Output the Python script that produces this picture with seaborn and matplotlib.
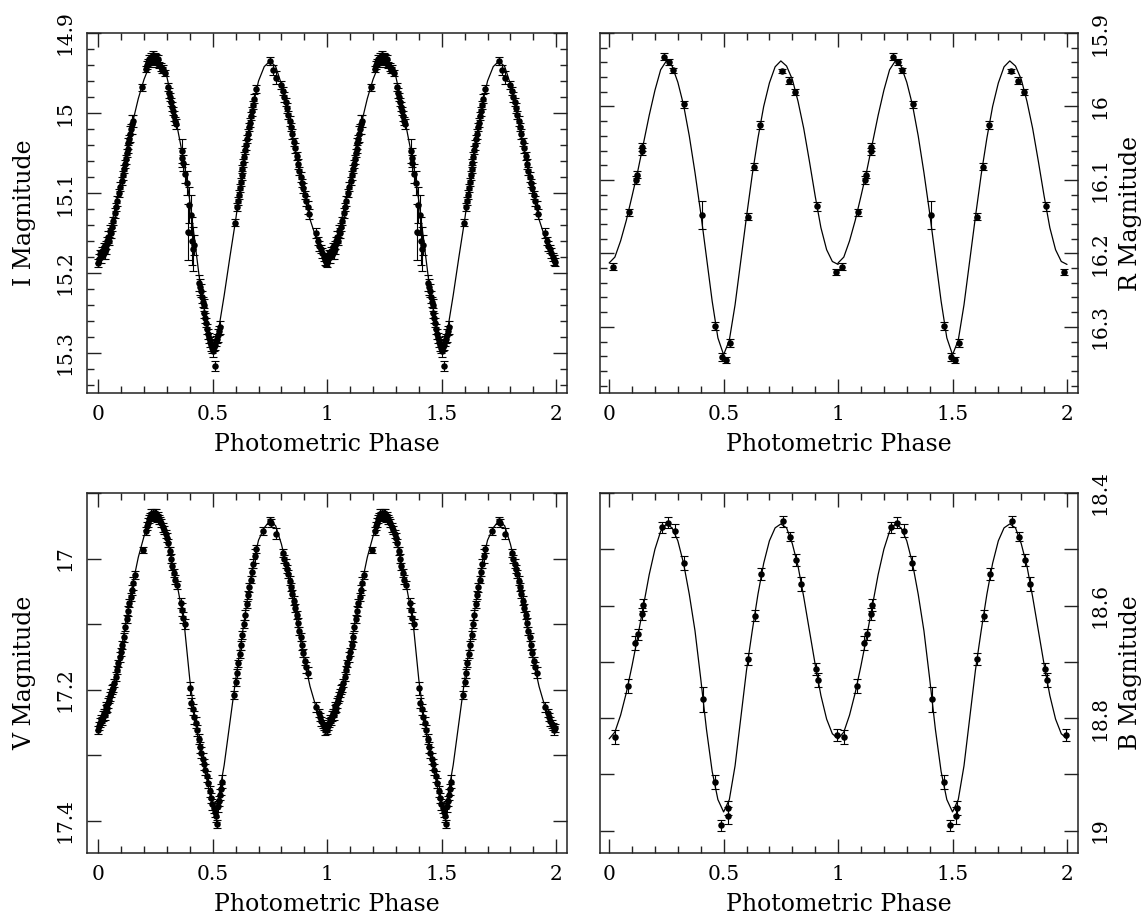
import numpy as np
import pandas as pd
import matplotlib
matplotlib.use("Agg")
import matplotlib.pyplot as plt
import seaborn as sns
from matplotlib.ticker import MultipleLocator, FuncFormatter

# ---------------- data (one cycle, phase 0-1; plotted twice) ----------------
curve_phase = [0.000, 0.025, 0.050, 0.075, 0.100, 0.125, 0.150, 0.175, 0.200, 0.225,
               0.250, 0.275, 0.300, 0.325, 0.350, 0.375, 0.400, 0.425, 0.450, 0.475,
               0.500, 0.525, 0.550, 0.575, 0.600, 0.625, 0.650, 0.675, 0.700, 0.725,
               0.750, 0.775, 0.800, 0.825, 0.850, 0.875, 0.900, 0.925, 0.950, 0.975, 1.000]

I_curve = [15.185, 15.176, 15.150, 15.117, 15.082, 15.044, 15.012, 14.982, 14.958, 14.940,
           14.932, 14.937, 14.955, 14.988, 15.025, 15.062, 15.110, 15.168, 15.225, 15.265,
           15.293, 15.272, 15.228, 15.180, 15.134, 15.082, 15.033, 14.992, 14.960, 14.942,
           14.935, 14.942, 14.964, 14.998, 15.032, 15.066, 15.100, 15.133, 15.155, 15.172, 15.185]

R_curve = [16.213, 16.205, 16.183, 16.155, 16.122, 16.088, 16.050, 16.012, 15.978, 15.950,
           15.938, 15.945, 15.967, 15.998, 16.040, 16.090, 16.145, 16.205, 16.265, 16.315,
           16.338, 16.318, 16.270, 16.210, 16.150, 16.093, 16.043, 16.000, 15.968, 15.946,
           15.938, 15.945, 15.963, 15.993, 16.030, 16.075, 16.122, 16.165, 16.195, 16.211, 16.215]

V_curve = [17.258, 17.245, 17.215, 17.180, 17.140, 17.088, 17.040, 16.998, 16.966, 16.945,
           16.937, 16.945, 16.967, 17.010, 17.050, 17.098, 17.185, 17.250, 17.298, 17.338,
           17.380, 17.365, 17.315, 17.250, 17.185, 17.125, 17.065, 17.010, 16.972, 16.953,
           16.942, 16.950, 16.978, 17.015, 17.060, 17.110, 17.155, 17.195, 17.225, 17.248, 17.258]

B_curve = [18.837, 18.825, 18.795, 18.755, 18.707, 18.655, 18.600, 18.545, 18.500, 18.468,
           18.455, 18.462, 18.485, 18.525, 18.580, 18.645, 18.730, 18.820, 18.895, 18.945,
           18.967, 18.945, 18.885, 18.800, 18.715, 18.645, 18.580, 18.525, 18.485, 18.462,
           18.455, 18.462, 18.490, 18.530, 18.585, 18.645, 18.705, 18.760, 18.802, 18.828, 18.837]

I_phase = [0.000, 0.004, 0.008, 0.012, 0.016, 0.020, 0.024, 0.028, 0.032, 0.036, 0.040, 0.044, 0.048, 0.052, 0.056, 0.060,
           0.066, 0.072, 0.078, 0.084, 0.090, 0.096,
           0.104, 0.108, 0.112, 0.116, 0.120, 0.124, 0.128, 0.132, 0.136, 0.140, 0.144, 0.148, 0.152,
           0.190,
           0.208, 0.214, 0.218, 0.222, 0.226, 0.230, 0.234, 0.238, 0.242, 0.246, 0.250, 0.254, 0.258, 0.262, 0.266, 0.272, 0.278, 0.284, 0.290,
           0.306, 0.310, 0.314, 0.318, 0.322, 0.326, 0.330, 0.334, 0.338,
           0.364, 0.368, 0.372, 0.380, 0.386,
           0.393, 0.398, 0.404, 0.410, 0.414, 0.420,
           0.440, 0.444, 0.448, 0.452, 0.456, 0.460, 0.464, 0.468, 0.472, 0.476, 0.480, 0.484, 0.488, 0.492, 0.496, 0.500, 0.504, 0.508, 0.512, 0.516, 0.520, 0.524, 0.528, 0.532,
           0.597,
           0.606, 0.610, 0.614, 0.618, 0.622, 0.626, 0.630, 0.634, 0.638, 0.642, 0.646, 0.650, 0.654, 0.658, 0.662, 0.666, 0.670, 0.676, 0.682, 0.690,
           0.752, 0.764, 0.776,
           0.800, 0.806, 0.812, 0.818, 0.824, 0.830, 0.836, 0.842, 0.848, 0.854, 0.860, 0.866, 0.872, 0.878, 0.884, 0.890, 0.896, 0.902, 0.908, 0.914, 0.920,
           0.952, 0.960, 0.966, 0.972, 0.978, 0.984, 0.990, 0.996]
I_mag = [15.188, 15.182, 15.176, 15.180, 15.172, 15.177, 15.168, 15.174, 15.165, 15.170, 15.160, 15.155, 15.160, 15.148, 15.150, 15.142,
         15.135, 15.125, 15.118, 15.110, 15.100, 15.092,
         15.085, 15.078, 15.070, 15.064, 15.058, 15.050, 15.045, 15.038, 15.033, 15.026, 15.020, 15.014, 15.010,
         14.968,
         14.945, 14.940, 14.936, 14.932, 14.938, 14.930, 14.934, 14.928, 14.935, 14.930, 14.936, 14.931, 14.938, 14.933, 14.940, 14.942, 14.946, 14.945, 14.950,
         14.968, 14.975, 14.980, 14.986, 14.992, 14.998, 15.004, 15.010, 15.014,
         15.048, 15.056, 15.062, 15.076, 15.088,
         15.149, 15.115, 15.128, 15.160, 15.170, 15.165,
         15.212, 15.218, 15.222, 15.230, 15.236, 15.240, 15.250, 15.256, 15.262, 15.270, 15.276, 15.281, 15.286, 15.290, 15.294, 15.297, 15.292, 15.316, 15.290, 15.285, 15.282, 15.278, 15.272, 15.268,
         15.137,
         15.118, 15.110, 15.102, 15.094, 15.086, 15.078, 15.070, 15.063, 15.055, 15.046, 15.040, 15.032, 15.026, 15.018, 15.012, 15.004, 14.998, 14.990, 14.982, 14.970,
         14.935, 14.946, 14.956,
         14.965, 14.972, 14.980, 14.986, 14.994, 15.002, 15.010, 15.018, 15.026, 15.036, 15.044, 15.054, 15.064, 15.072, 15.080, 15.088, 15.094, 15.102, 15.110, 15.118, 15.126,
         15.150, 15.160, 15.166, 15.170, 15.175, 15.180, 15.184, 15.186]
I_err = [0.005, 0.006, 0.005, 0.007, 0.005, 0.006, 0.005, 0.008, 0.005, 0.006, 0.005, 0.007, 0.005, 0.008, 0.006, 0.005,
         0.005, 0.006, 0.005, 0.006, 0.005, 0.006,
         0.005, 0.006, 0.005, 0.005, 0.006, 0.005, 0.005, 0.007, 0.005, 0.010, 0.006, 0.012, 0.008,
         0.004,
         0.004, 0.005, 0.004, 0.005, 0.004, 0.005, 0.004, 0.006, 0.004, 0.005, 0.004, 0.005, 0.004, 0.005, 0.004, 0.005, 0.004, 0.005, 0.004,
         0.005, 0.006, 0.005, 0.005, 0.006, 0.005, 0.006, 0.005, 0.006,
         0.015, 0.012, 0.010, 0.012, 0.015,
         0.035, 0.022, 0.025, 0.030, 0.028, 0.012,
         0.010, 0.010, 0.008, 0.008, 0.006, 0.008, 0.006, 0.006, 0.006, 0.006, 0.006, 0.006, 0.006, 0.008, 0.006, 0.008, 0.006, 0.006, 0.006, 0.006, 0.006, 0.008, 0.006, 0.008,
         0.004,
         0.005, 0.005, 0.006, 0.005, 0.005, 0.006, 0.005, 0.005, 0.006, 0.005, 0.006, 0.005, 0.006, 0.005, 0.006, 0.005, 0.006, 0.005, 0.006, 0.005,
         0.005, 0.006, 0.008,
         0.005, 0.005, 0.006, 0.005, 0.006, 0.005, 0.006, 0.005, 0.006, 0.005, 0.006, 0.005, 0.006, 0.005, 0.006, 0.005, 0.006, 0.005, 0.006, 0.008, 0.006,
         0.006, 0.005, 0.006, 0.005, 0.006, 0.005, 0.006, 0.005]

V_phase = [0.000, 0.004, 0.008, 0.012, 0.016, 0.020, 0.024, 0.028, 0.032, 0.036, 0.040, 0.044, 0.048, 0.052, 0.056, 0.060,
           0.064, 0.070, 0.076, 0.082, 0.088, 0.094, 0.100, 0.106, 0.112, 0.118, 0.124, 0.130, 0.136, 0.142, 0.148, 0.154, 0.160,
           0.197,
           0.210, 0.214, 0.218, 0.222, 0.226, 0.230, 0.234, 0.238, 0.242, 0.246, 0.250, 0.254, 0.258, 0.262, 0.266, 0.270, 0.276, 0.282, 0.288, 0.294, 0.300,
           0.306, 0.312, 0.318, 0.324, 0.330, 0.336, 0.342, 0.360, 0.366, 0.372, 0.378,
           0.402, 0.406, 0.414, 0.420, 0.426, 0.432, 0.438, 0.444, 0.450, 0.456, 0.462, 0.468, 0.474, 0.480, 0.486, 0.492, 0.498, 0.504,
           0.508, 0.514, 0.518, 0.524, 0.528, 0.532, 0.536, 0.540,
           0.592, 0.600, 0.606, 0.612, 0.618, 0.624, 0.630, 0.636, 0.642, 0.648, 0.654, 0.660, 0.666, 0.672, 0.678, 0.684, 0.690,
           0.720, 0.750, 0.756, 0.778,
           0.806, 0.812, 0.818, 0.824, 0.830, 0.836, 0.842, 0.848, 0.854, 0.860, 0.866, 0.872, 0.878, 0.884, 0.890, 0.896, 0.902, 0.908, 0.914,
           0.952, 0.962, 0.968, 0.974, 0.980, 0.986, 0.992, 0.996]
V_mag = [17.262, 17.255, 17.250, 17.245, 17.248, 17.240, 17.236, 17.238, 17.230, 17.225, 17.228, 17.220, 17.215, 17.210, 17.205, 17.200,
         17.198, 17.190, 17.180, 17.170, 17.160, 17.150, 17.143, 17.132, 17.120, 17.104, 17.092, 17.080, 17.068, 17.058, 17.048, 17.038, 17.025,
         16.987,
         16.958, 16.950, 16.945, 16.940, 16.936, 16.932, 16.935, 16.930, 16.934, 16.930, 16.936, 16.932, 16.938, 16.935, 16.940, 16.942, 16.946, 16.952, 16.956, 16.962, 16.968,
         16.976, 16.988, 17.000, 17.012, 17.022, 17.032, 17.040, 17.068, 17.078, 17.090, 17.100,
         17.198, 17.220, 17.230, 17.242, 17.250, 17.262, 17.275, 17.288, 17.296, 17.305, 17.314, 17.322, 17.332, 17.342, 17.355, 17.365, 17.375, 17.380,
         17.386, 17.392, 17.405, 17.378, 17.370, 17.360, 17.352, 17.340,
         17.208, 17.188, 17.175, 17.160, 17.146, 17.132, 17.116, 17.100, 17.086, 17.070, 17.056, 17.044, 17.032, 17.020, 17.008, 16.996, 16.985,
         16.958, 16.942, 16.946, 16.962,
         16.992, 17.000, 17.008, 17.016, 17.024, 17.034, 17.044, 17.054, 17.064, 17.076, 17.086, 17.098, 17.110, 17.120, 17.132, 17.144, 17.156, 17.166, 17.174,
         17.226, 17.236, 17.242, 17.248, 17.252, 17.256, 17.262, 17.258]
V_err = [0.006, 0.006, 0.007, 0.006, 0.006, 0.007, 0.006, 0.008, 0.006, 0.007, 0.006, 0.008, 0.006, 0.007, 0.006, 0.007,
         0.006, 0.006, 0.007, 0.006, 0.006, 0.007, 0.006, 0.006, 0.007, 0.006, 0.006, 0.007, 0.006, 0.006, 0.007, 0.010, 0.006,
         0.005,
         0.006, 0.006, 0.007, 0.006, 0.006, 0.007, 0.006, 0.006, 0.007, 0.006, 0.006, 0.007, 0.006, 0.006, 0.007, 0.006, 0.006, 0.007, 0.006, 0.006, 0.007,
         0.006, 0.006, 0.007, 0.006, 0.006, 0.007, 0.006, 0.008, 0.010, 0.008, 0.008,
         0.010, 0.008, 0.008, 0.010, 0.008, 0.008, 0.008, 0.008, 0.008, 0.008, 0.008, 0.008, 0.008, 0.008, 0.008, 0.008, 0.008, 0.008,
         0.008, 0.010, 0.006, 0.008, 0.008, 0.008, 0.008, 0.010,
         0.006, 0.006, 0.007, 0.006, 0.006, 0.007, 0.006, 0.006, 0.007, 0.006, 0.006, 0.007, 0.006, 0.006, 0.007, 0.010, 0.006,
         0.006, 0.005, 0.006, 0.008,
         0.006, 0.006, 0.007, 0.006, 0.006, 0.007, 0.006, 0.006, 0.007, 0.006, 0.006, 0.007, 0.006, 0.006, 0.007, 0.006, 0.006, 0.008, 0.008,
         0.008, 0.006, 0.006, 0.007, 0.006, 0.006, 0.007, 0.006]

R_phase = [0.017, 0.088, 0.116, 0.120, 0.142, 0.143, 0.238, 0.263, 0.280, 0.327, 0.404, 0.464,
           0.493, 0.512, 0.528, 0.605, 0.632, 0.659, 0.755, 0.786, 0.813, 0.907, 0.989]
R_mag = [16.218, 16.144, 16.100, 16.093, 16.061, 16.055, 15.932, 15.940, 15.951, 15.997, 16.148, 16.299,
         16.341, 16.345, 16.322, 16.150, 16.082, 16.025, 15.952, 15.965, 15.980, 16.136, 16.225]
R_err = [0.005, 0.005, 0.005, 0.005, 0.005, 0.005, 0.005, 0.004, 0.004, 0.005, 0.019, 0.005,
         0.005, 0.004, 0.006, 0.005, 0.005, 0.005, 0.003, 0.005, 0.004, 0.006, 0.004]

B_phase = [0.024, 0.081, 0.114, 0.125, 0.142, 0.149, 0.233, 0.257, 0.289, 0.325, 0.410, 0.462, 0.488,
           0.517, 0.521, 0.608, 0.636, 0.664, 0.760, 0.790, 0.817, 0.840, 0.905, 0.912, 0.995]
B_mag = [18.834, 18.743, 18.667, 18.651, 18.615, 18.599, 18.461, 18.453, 18.467, 18.524, 18.767, 18.914, 18.991,
         18.974, 18.960, 18.695, 18.618, 18.544, 18.450, 18.478, 18.519, 18.562, 18.713, 18.732, 18.830]
B_err = [0.012, 0.012, 0.012, 0.010, 0.010, 0.010, 0.010, 0.010, 0.012, 0.012, 0.023, 0.012, 0.010,
         0.015, 0.012, 0.010, 0.010, 0.010, 0.010, 0.008, 0.010, 0.012, 0.010, 0.012, 0.010]

# ---------------- style ----------------
sns.set_theme(style="ticks")
plt.rcParams["font.family"] = ["DejaVu Serif"]
plt.rcParams["axes.linewidth"] = 1.1
plt.rcParams["axes.edgecolor"] = "#222222"

W, H = 1144, 917
fig = plt.figure(figsize=(W / 100, H / 100), dpi=100)


def rect(x0, y0, x1, y1):
    return [x0 / W, 1 - y1 / H, (x1 - x0) / W, (y1 - y0) / H]


def fold(ph, mag, err=None):
    d = pd.DataFrame({"phase": ph, "mag": mag})
    if err is not None:
        d["err"] = err
    d2 = d.copy()
    d2["phase"] = d2["phase"] + 1.0
    return pd.concat([d, d2], ignore_index=True)


fmt = FuncFormatter(lambda v, p: f"{v:g}")

panels = [
    dict(r=rect(87, 33, 567, 393), ph=I_phase, mag=I_mag, err=I_err, cur=I_curve,
         ylim=(15.35, 14.9), xlim=(-0.049, 2.047), major=0.1, minor=0.02, same=False,
         label="I Magnitude", right=False),
    dict(r=rect(600, 33, 1078, 393), ph=R_phase, mag=R_mag, err=R_err, cur=R_curve,
         ylim=(16.39, 15.9), xlim=(-0.040, 2.048), major=0.1, minor=0.02, same=False,
         label="R Magnitude", right=True),
    dict(r=rect(87, 493, 567, 853), ph=V_phase, mag=V_mag, err=V_err, cur=V_curve,
         ylim=(17.449, 16.90), xlim=(-0.049, 2.047), major=0.2, minor=0.1, same=True,
         label="V Magnitude", right=False),
    dict(r=rect(600, 493, 1078, 853), ph=B_phase, mag=B_mag, err=B_err, cur=B_curve,
         ylim=(19.04, 18.4), xlim=(-0.040, 2.048), major=0.2, minor=0.1, same=True,
         label="B Magnitude", right=True),
]

for p in panels:
    ax = fig.add_axes(p["r"])
    ax.set_facecolor("white")
    data = fold(p["ph"], p["mag"], p["err"])
    curve = fold(curve_phase, p["cur"])

    sns.lineplot(data=curve, x="phase", y="mag", ax=ax, color="black",
                 linewidth=0.9, estimator=None, sort=False, zorder=2)
    ax.errorbar(data["phase"], data["mag"], yerr=data["err"], fmt="none",
                ecolor="black", elinewidth=0.8, capsize=2.8, capthick=0.8, zorder=3)
    sns.scatterplot(data=data, x="phase", y="mag", ax=ax, color="black",
                    s=22, linewidth=0, zorder=4, legend=False)

    ax.set_xlim(*p["xlim"])
    ax.set_ylim(*p["ylim"])
    ax.xaxis.set_major_locator(MultipleLocator(0.5))
    ax.xaxis.set_minor_locator(MultipleLocator(0.1))
    ax.xaxis.set_major_formatter(fmt)
    ax.yaxis.set_major_locator(MultipleLocator(p["major"]))
    ax.yaxis.set_minor_locator(MultipleLocator(p["minor"]))
    ax.yaxis.set_major_formatter(fmt)

    ax.tick_params(axis="both", which="both", direction="in", top=True, bottom=True,
                   left=True, right=True, color="#222222", width=1.0,
                   labelsize=14.5, pad=9, labelcolor="black")
    ax.tick_params(which="major", length=10)
    ax.tick_params(which="minor", length=5)
    if p["same"]:
        ax.tick_params(axis="y", which="minor", length=10)
    ax.tick_params(axis="y", labelrotation=90)

    ax.set_xlabel("Photometric Phase", fontsize=17, labelpad=6, color="black")
    if p["right"]:
        ax.tick_params(axis="y", labelleft=False, labelright=True)
        ax.yaxis.set_label_position("right")
        ax.set_ylabel(p["label"], fontsize=17, labelpad=7, rotation=90, color="black")
    else:
        ax.set_ylabel(p["label"], fontsize=17, labelpad=14, color="black")
    for lbl in ax.get_yticklabels():
        lbl.set_va("center")
    for s in ax.spines.values():
        s.set_visible(True)

fig.savefig("out.png", dpi=100, facecolor="white")
